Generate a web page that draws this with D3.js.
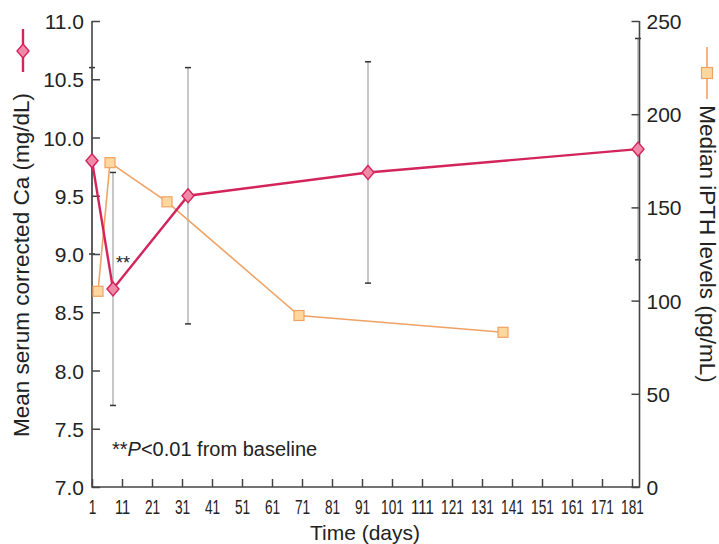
<!DOCTYPE html>
<html><head><meta charset="utf-8">
<script src="https://cdn.jsdelivr.net/npm/d3@7"></script>
<style>
body{margin:0;background:#fff;}
svg{display:block;font-family:"Liberation Sans",Arial,sans-serif;}
</style></head>
<body>
<svg id="c" width="719" height="544"></svg>
<script>
// Data
const caDays = [1, 8, 33, 93, 183];
const caMean = [9.8, 8.7, 9.5, 9.7, 9.9];
const caErr  = [0.8, 1.0, 1.1, 0.95, 0.95];
const pthDays = [3, 7, 26, 70, 138];
const pthMedian = [105, 174, 153, 92, 83];
const xTicks = [1,11,21,31,41,51,61,71,81,91,101,111,121,131,141,151,161,171,181];
const yLeftTicks = [7.0,7.5,8.0,8.5,9.0,9.5,10.0,10.5,11.0];
const yRightTicks = [0,50,100,150,200,250];

const svg = d3.select("#c");
const L = 92, R = 639.5, T = 21, B = 487;
const x = d3.scaleLinear().domain([1,181]).range([L, 632]);
const yL = d3.scaleLinear().domain([7,11]).range([B, T]);
const yR = d3.scaleLinear().domain([0,250]).range([B, T]);

const axisCol = "#444";
const pink = "#d3245c", pinkFill = "#f08aa8";
const orange = "#f0a264", orangeFill = "#fdd79e";

// Error bars (Ca)
const eb = svg.append("g");
caDays.forEach((d,i)=>{
  const cx = x(d);
  eb.append("line").attr("x1",cx).attr("x2",cx)
    .attr("y1",yL(caMean[i]+caErr[i])).attr("y2",yL(caMean[i]-caErr[i]))
    .attr("stroke","#aaa").attr("stroke-width",1.3);
  [caMean[i]+caErr[i], caMean[i]-caErr[i]].forEach(v=>{
    eb.append("line").attr("x1",cx-3).attr("x2",cx+3).attr("y1",yL(v)).attr("y2",yL(v))
      .attr("stroke","#333").attr("stroke-width",1.5);
  });
});

// Axes
const xFs = 19.5;
const bottom = d3.axisBottom(x).tickValues(xTicks).tickSize(-8).tickPadding(0).tickFormat(d3.format("d"));
const gb = svg.append("g").attr("transform",`translate(0,${B})`).call(bottom);
gb.select(".domain").remove();
gb.selectAll(".tick line").attr("stroke",axisCol).attr("stroke-width",1.5);
gb.selectAll(".tick text").attr("y",27).attr("dy",0)
  .style("font-size",xFs+"px").attr("fill","#222")
  .attr("lengthAdjust","spacingAndGlyphs")
  .attr("textLength",d=>String(d).length*0.556*xFs*0.7);

const left = d3.axisLeft(yL).tickValues(yLeftTicks).tickSize(-8).tickPadding(0).tickFormat(d3.format(".1f"));
const gl = svg.append("g").attr("transform",`translate(${L},0)`).call(left);
gl.select(".domain").remove();
gl.selectAll(".tick line").attr("stroke",axisCol).attr("stroke-width",1.5);
gl.selectAll(".tick text").attr("x",-8).attr("dy","0.36em").attr("font-size",21).attr("fill","#222");

const right = d3.axisRight(yR).tickValues(yRightTicks).tickSize(-8).tickPadding(0);
const gr = svg.append("g").attr("transform",`translate(${R},0)`).call(right);
gr.select(".domain").remove();
gr.selectAll(".tick line").attr("stroke",axisCol).attr("stroke-width",1.5);
gr.selectAll(".tick text").attr("x",7).attr("dy","0.36em").attr("font-size",21).attr("fill","#222");

// axis frame lines (left, bottom, right)
svg.append("path").attr("d",`M${L},${T}V${B}H${R}V${T}`).attr("fill","none")
  .attr("stroke",axisCol).attr("stroke-width",1.6);

// iPTH line
const linePth = d3.line().x((d,i)=>x(pthDays[i])).y(d=>yR(d));
svg.append("path").datum(pthMedian).attr("d",linePth).attr("fill","none")
  .attr("stroke",orange).attr("stroke-width",1.6);
svg.append("g").selectAll("rect").data(pthMedian).join("rect")
  .attr("x",(d,i)=>x(pthDays[i])-5).attr("y",d=>yR(d)-5).attr("width",10).attr("height",10)
  .attr("fill",orangeFill).attr("stroke",orange).attr("stroke-width",1.2);

// Ca line
const lineCa = d3.line().x((d,i)=>x(caDays[i])).y(d=>yL(d));
svg.append("path").datum(caMean).attr("d",lineCa).attr("fill","none")
  .attr("stroke",pink).attr("stroke-width",2.4);
const diamond = "M0,-7L6,0L0,7L-6,0Z";
svg.append("g").selectAll("path").data(caMean).join("path")
  .attr("d",diamond).attr("transform",(d,i)=>`translate(${x(caDays[i])},${yL(d)})`)
  .attr("fill",pinkFill).attr("stroke",pink).attr("stroke-width",1.4);

// annotations
svg.append("text").attr("x",116).attr("y",269).attr("font-size",18).attr("fill","#222").text("**");
const fn = svg.append("text").attr("x",112).attr("y",456).attr("font-size",20).attr("fill","#222");
fn.append("tspan").text("**");
fn.append("tspan").attr("font-style","italic").text("P");
fn.append("tspan").text("<0.01 from baseline");

// titles
svg.append("text").attr("transform","translate(29,265) rotate(-90)").attr("text-anchor","middle")
  .attr("font-size",22.5).attr("fill","#222").text("Mean serum corrected Ca (mg/dL)");
svg.append("text").attr("transform","translate(700,244) rotate(90)").attr("text-anchor","middle")
  .attr("font-size",22.5).attr("fill","#222").text("Median iPTH levels (pg/mL)");
svg.append("text").attr("x",365).attr("y",540).attr("text-anchor","middle")
  .attr("font-size",21).attr("fill","#222").text("Time (days)");

// legend icons
const lg1 = svg.append("g").attr("transform","translate(23,51)");
lg1.append("line").attr("y1",-22).attr("y2",21).attr("stroke",pink).attr("stroke-width",2.4);
lg1.append("path").attr("d",diamond).attr("fill",pinkFill).attr("stroke",pink).attr("stroke-width",1.4);
const lg2 = svg.append("g").attr("transform","translate(707,73)");
lg2.append("line").attr("y1",-26).attr("y2",26).attr("stroke",orange).attr("stroke-width",1.6);
lg2.append("rect").attr("x",-5.5).attr("y",-5.5).attr("width",11).attr("height",11)
  .attr("fill",orangeFill).attr("stroke",orange).attr("stroke-width",1.2);
</script>
</body></html>
